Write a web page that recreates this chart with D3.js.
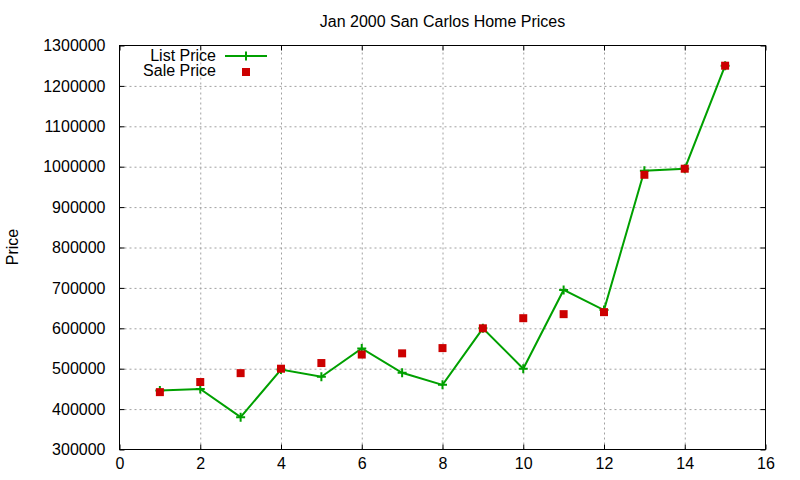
<!DOCTYPE html>
<html lang="en">
<head>
    <meta charset="UTF-8">
    <title>Jan 2000 San Carlos Home Prices</title>
    <style>
        body { margin: 0; background: #fff; }
        svg { display: block; }
        text {
            font-family: "Liberation Sans", Arial, sans-serif;
            font-size: 16px;
            fill: #000;
        }
        .grid line {
            stroke: #a0a0a0;
            stroke-width: 1;
            stroke-dasharray: 2, 3;
        }
        .grid path { display: none; }
        .ax path { display: none; }
        .ax line { stroke: #000; }
        .frame { fill: none; stroke: #000; stroke-width: 1; }
    </style>
</head>
<body>
<svg width="800" height="480"></svg>

<script src="https://d3js.org/d3.v7.min.js"></script>
<script>
    // house number on the x axis, prices in dollars
    var houses = [1, 2, 3, 4, 5, 6, 7, 8, 9, 10, 11, 12, 13, 14, 15];
    var listPrice = [446000, 450000, 380000, 498000, 480000, 550000, 490000, 460000,
                     600000, 500000, 695000, 645000, 990000, 995000, 1250000];
    var salePrice = [442000, 467000, 489000, 500000, 514000, 535000, 538000, 551000,
                     600000, 625000, 635000, 640000, 980000, 995000, 1250000];
    var xTicks = [0, 2, 4, 6, 8, 10, 12, 14, 16];
    var yTicks = [300000, 400000, 500000, 600000, 700000, 800000, 900000,
                  1000000, 1100000, 1200000, 1300000];

    var svg = d3.select("svg");
    var plotLeft = 119.5, plotRight = 765.5, plotTop = 45.5, plotBottom = 449.5;
    var width = plotRight - plotLeft, height = plotBottom - plotTop;

    var x = d3.scaleLinear().domain([0, 16]).range([0, width]);
    var y = d3.scaleLinear().domain([300000, 1300000]).range([height, 0]);

    var g = svg.append("g").attr("transform", "translate(" + plotLeft + "," + plotTop + ")");

    // dotted grid, skip the lines that sit on the frame
    g.append("g").attr("class", "grid")
        .attr("transform", "translate(0," + height + ")")
        .call(d3.axisBottom(x).tickValues(xTicks.slice(1, -1)).tickSize(-height).tickFormat(""));
    g.append("g").attr("class", "grid")
        .call(d3.axisLeft(y).tickValues(yTicks.slice(1, -1)).tickSize(-width).tickFormat(""));

    // axes with inward ticks, mirrored on top and right
    var bottomAx = g.append("g").attr("class", "ax")
        .attr("transform", "translate(0," + height + ")")
        .call(d3.axisBottom(x).tickValues(xTicks).tickSizeInner(-5).tickSizeOuter(0).tickPadding(8));
    var leftAx = g.append("g").attr("class", "ax")
        .call(d3.axisLeft(y).tickValues(yTicks).tickSizeInner(-5).tickSizeOuter(0).tickPadding(14)
            .tickFormat(d3.format("d")));
    g.append("g").attr("class", "ax")
        .call(d3.axisTop(x).tickValues(xTicks).tickSizeInner(-5).tickSizeOuter(0).tickFormat(""));
    g.append("g").attr("class", "ax")
        .attr("transform", "translate(" + width + ",0)")
        .call(d3.axisRight(y).tickValues(yTicks).tickSizeInner(-5).tickSizeOuter(0).tickFormat(""));

    bottomAx.selectAll("text").attr("font-size", null).attr("font-family", null).attr("dy", "0.71em");
    leftAx.selectAll("text").attr("font-size", null).attr("font-family", null).attr("dy", "0.33em");

    g.append("rect").attr("class", "frame")
        .attr("width", width).attr("height", height);

    // list price line with plus markers
    var line = d3.line()
        .x(function (d, i) { return x(houses[i]); })
        .y(function (d) { return y(d); });

    g.append("path")
        .datum(listPrice)
        .attr("d", line)
        .attr("fill", "none")
        .attr("stroke", "#00a000")
        .attr("stroke-width", 2);

    g.selectAll(".plus")
        .data(listPrice)
        .enter().append("path")
        .attr("class", "plus")
        .attr("d", "M-4.5,0H4.5M0,-4.5V4.5")
        .attr("stroke", "#00a000")
        .attr("stroke-width", 2)
        .attr("transform", function (d, i) {
            return "translate(" + x(houses[i]) + "," + y(d) + ")";
        });

    // sale price squares
    g.selectAll(".sq")
        .data(salePrice)
        .enter().append("rect")
        .attr("class", "sq")
        .attr("x", function (d, i) { return x(houses[i]) - 4; })
        .attr("y", function (d) { return y(d) - 4; })
        .attr("width", 8)
        .attr("height", 8)
        .attr("fill", "#cc0000");

    // title and axis label
    svg.append("text")
        .attr("x", (plotLeft + plotRight) / 2)
        .attr("y", 27)
        .attr("text-anchor", "middle")
        .text("Jan 2000 San Carlos Home Prices");

    svg.append("text")
        .attr("transform", "translate(18,247) rotate(-90)")
        .attr("text-anchor", "middle")
        .text("Price");

    // legend
    var legend = svg.append("g");
    legend.append("text").attr("x", 216).attr("y", 61).attr("text-anchor", "end").text("List Price");
    legend.append("line")
        .attr("x1", 225).attr("x2", 267).attr("y1", 56).attr("y2", 56)
        .attr("stroke", "#00a000").attr("stroke-width", 2);
    legend.append("path")
        .attr("d", "M-4.5,0H4.5M0,-4.5V4.5")
        .attr("transform", "translate(246,56)")
        .attr("stroke", "#00a000").attr("stroke-width", 2);
    legend.append("text").attr("x", 216).attr("y", 76).attr("text-anchor", "end").text("Sale Price");
    legend.append("rect")
        .attr("x", 242).attr("y", 68).attr("width", 8).attr("height", 8)
        .attr("fill", "#cc0000");
</script>
</body>
</html>
